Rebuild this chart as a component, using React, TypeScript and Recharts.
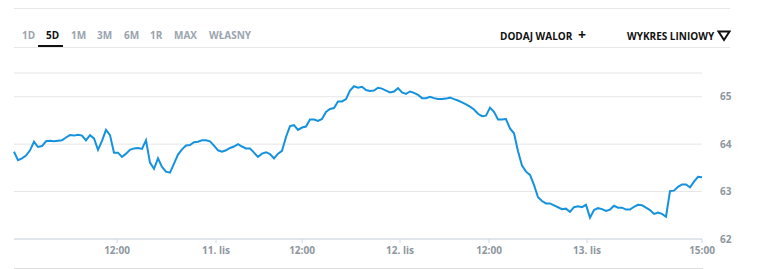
import React from "react";
import { LineChart, Line, XAxis, YAxis, CartesianGrid } from "recharts";

// Price sampled at uniform steps of the (ordinal) trading-time axis
const values: number[] = [
  63.84, 63.66, 63.7, 63.76, 63.87, 64.05, 63.94, 63.96, 64.06, 64.07,
  64.06, 64.07, 64.08, 64.14, 64.19, 64.18, 64.2, 64.18, 64.08, 64.19,
  64.12, 63.88, 64.07, 64.3, 64.19, 63.82, 63.82, 63.73, 63.8, 63.88,
  63.91, 63.92, 63.9, 64.08, 63.61, 63.48, 63.7, 63.52, 63.42, 63.4,
  63.59, 63.78, 63.89, 63.97, 63.98, 64.04, 64.05, 64.08, 64.08, 64.06,
  63.97, 63.87, 63.84, 63.87, 63.92, 63.95, 64.0, 63.95, 63.91, 63.91,
  63.82, 63.73, 63.8, 63.83, 63.79, 63.7, 63.8, 63.86, 64.15, 64.38,
  64.4, 64.3, 64.35, 64.37, 64.52, 64.52, 64.49, 64.53, 64.68, 64.74,
  64.76, 64.9, 64.9, 64.95, 65.13, 65.22, 65.19, 65.21, 65.14, 65.12,
  65.13, 65.19, 65.17, 65.13, 65.09, 65.11, 65.18, 65.09, 65.06, 65.11,
  65.08, 65.04, 64.97, 64.97, 65.0, 64.97, 64.95, 64.95, 64.96, 64.98,
  64.95, 64.92, 64.88, 64.84, 64.79, 64.73, 64.64, 64.59, 64.6, 64.77,
  64.68, 64.52, 64.52, 64.53, 64.33, 64.23, 63.85, 63.55, 63.42, 63.35,
  63.14, 62.88, 62.8, 62.75, 62.75, 62.71, 62.67, 62.63, 62.64, 62.57,
  62.67, 62.69, 62.67, 62.72, 62.45, 62.61, 62.65, 62.63, 62.59, 62.62,
  62.7, 62.66, 62.66, 62.62, 62.62, 62.68, 62.72, 62.71, 62.66, 62.61,
  62.53, 62.56, 62.53, 62.47, 63.01, 63.02, 63.1, 63.15, 63.15, 63.09,
  63.21, 63.31, 63.3,
];

// x-axis ticks (position on the ordinal axis) and their labels
const xTickPos: number[] = [25.75, 50.5, 72, 96.5, 118.75, 143.25, 172];
const xTickLabels: string[] = ["12:00", "11. lis", "12:00", "12. lis", "12:00", "13. lis", "15:00"];

const yTicks: number[] = [62, 63, 64, 65];
const yDomain: number[] = [62, 65.5];

const tabs: string[] = ["1D", "5D", "1M", "3M", "6M", "1R", "MAX", "WŁASNY"];
const tabX: number[] = [22, 46, 71, 97, 124, 150, 174, 209];
const activeTab = "5D";

const data = values.map((v, i) => ({ i, v }));

const FONT = "'Open Sans', 'Noto Sans', sans-serif";
const GRAY = "#8e969e";

export default function App() {
  return (
    <div
      style={{
        position: "absolute",
        left: 0,
        top: 0,
        width: 765,
        height: 269,
        background: "#fff",
        fontFamily: FONT,
        overflow: "hidden",
      }}
    >
      {/* header lines */}
      <div style={{ position: "absolute", left: 14, top: 8, width: 716, height: 1, background: "#e8e8e8" }} />
      <div style={{ position: "absolute", left: 14, top: 47, width: 716, height: 1, background: "#e8e8e8" }} />
      <div style={{ position: "absolute", left: 14, top: 268, width: 689, height: 1, background: "#dddddd" }} />

      {tabs.map((t, k) => (
        <span
          key={t}
          style={{
            position: "absolute",
            left: tabX[k],
            top: 28,
            fontSize: 10,
            fontWeight: 700,
            lineHeight: "14px",
            color: t === activeTab ? "#111" : "#9aa4ae",
            whiteSpace: "nowrap",
          }}
        >
          {t}
        </span>
      ))}
      <div style={{ position: "absolute", left: 38, top: 45, width: 25, height: 2, background: "#111" }} />

      <span
        style={{
          position: "absolute",
          left: 500,
          top: 29,
          fontSize: 10,
          fontWeight: 700,
          lineHeight: "14px",
          color: "#111",
          whiteSpace: "nowrap",
        }}
      >
        DODAJ WALOR
      </span>
      <span
        style={{
          position: "absolute",
          left: 578,
          top: 27,
          fontSize: 14,
          fontWeight: 700,
          lineHeight: "16px",
          color: "#111",
        }}
      >
        +
      </span>
      <span
        style={{
          position: "absolute",
          left: 627,
          top: 29,
          fontSize: 10,
          fontWeight: 700,
          lineHeight: "14px",
          color: "#111",
          whiteSpace: "nowrap",
        }}
      >
        WYKRES LINIOWY
      </span>
      <svg style={{ position: "absolute", left: 717, top: 30 }} width={14} height={12}>
        <polygon points="1.5,1.5 12.5,1.5 7,10" fill="none" stroke="#111" strokeWidth={2} strokeLinejoin="miter" />
      </svg>

      <div style={{ position: "absolute", left: 0, top: 0 }}>
        <LineChart width={765} height={269} data={data} margin={{ top: 73, right: 0, bottom: 0, left: 14 }}>
          <CartesianGrid vertical={false} stroke="#e6e6e6" />
          <XAxis
            dataKey="i"
            type="number"
            domain={[0, values.length - 1]}
            ticks={xTickPos}
            tickFormatter={(v: number) => {
              const k = xTickPos.indexOf(v);
              return k >= 0 ? xTickLabels[k] : "";
            }}
            height={30}
            axisLine={{ stroke: "#ccd6eb" }}
            tickLine={{ stroke: "#ccd6eb" }}
            tickSize={4}
            tickMargin={4}
            interval={0}
            tick={{ fill: GRAY, fontSize: 10, fontWeight: 700, fontFamily: FONT }}
          />
          <YAxis
            orientation="right"
            domain={yDomain}
            ticks={yTicks}
            width={63}
            axisLine={false}
            tickLine={false}
            tickMargin={12}
            tick={{ fill: GRAY, fontSize: 10, fontWeight: 700, fontFamily: FONT, textAnchor: "start" }}
          />
          <Line
            type="linear"
            dataKey="v"
            stroke="#1592de"
            strokeWidth={2}
            dot={false}
            isAnimationActive={false}
          />
        </LineChart>
      </div>
    </div>
  );
}
